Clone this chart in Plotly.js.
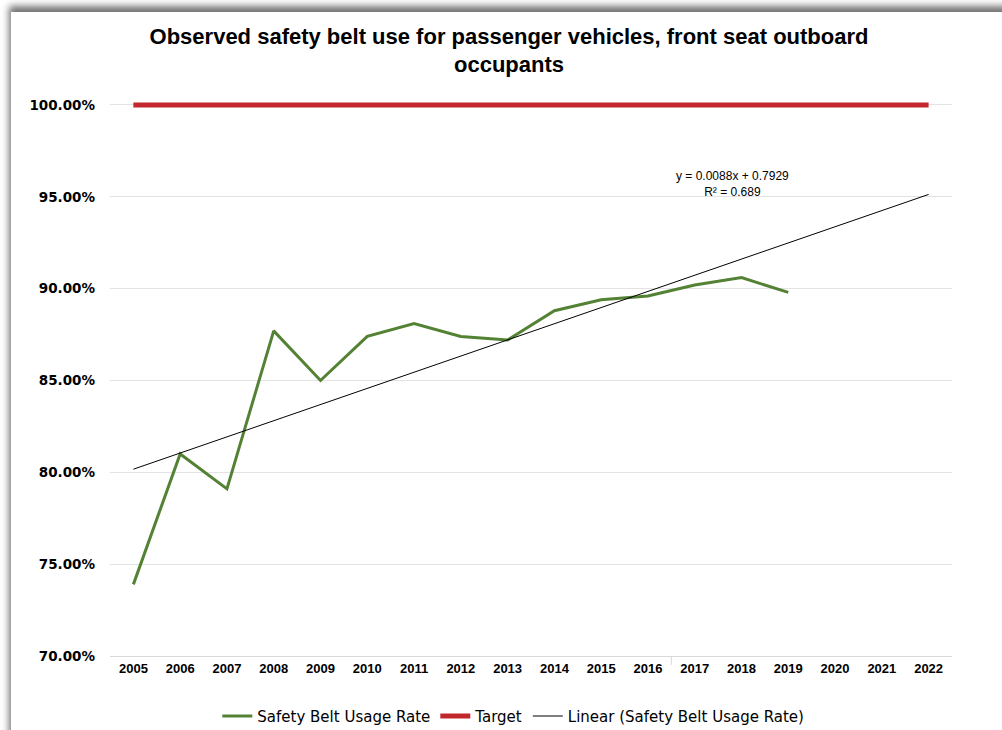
<!DOCTYPE html>
<html>
<head>
<meta charset="utf-8">
<script src="https://cdn.plot.ly/plotly-3.0.1.min.js"></script>
<style>
  html, body { margin: 0; padding: 0; background: #ffffff; overflow: hidden; }
  #frame { position: absolute; left: 11px; top: 12px; width: 1000px; height: 730px; background: #ffffff;
           box-shadow: -2px -6px 7px rgba(0,0,0,0.55); }
  #chart { position: absolute; left: 0; top: 0; width: 1002px; height: 730px; }
</style>
</head>
<body>
<div id="frame"></div>
<div id="chart"></div>
<script>
// ---- data ----
const years = ["2005","2006","2007","2008","2009","2010","2011","2012","2013","2014","2015","2016","2017","2018","2019","2020","2021","2022"];
const usageRate = [0.739, 0.810, 0.791, 0.877, 0.850, 0.874, 0.881, 0.874, 0.872, 0.888, 0.894, 0.896, 0.902, 0.906, 0.898];
const target = [1,1,1,1,1,1,1,1,1,1,1,1,1,1,1,1,1,1];
const trendSlope = 0.0088;
const trendIntercept = 0.7929;
const trendR2 = 0.689;
const yTicks = [0.70, 0.75, 0.80, 0.85, 0.90, 0.95, 1.00];
const yTickLabels = ["70.00%","75.00%","80.00%","85.00%","90.00%","95.00%","100.00%"];

const trendValues = years.map((_, i) => trendSlope * (i + 1) + trendIntercept);

const sansBold = "Liberation Sans, Arial, sans-serif";

const traces = [
  { x: years.slice(0, usageRate.length), y: usageRate, type: "scatter", mode: "lines",
    name: "Safety Belt Usage Rate", line: { color: "#548235", width: 3 } },
  { x: years, y: target, type: "scatter", mode: "lines",
    name: "Target", line: { color: "#C1272D", width: 5 } },
  { x: years, y: trendValues, type: "scatter", mode: "lines",
    name: "Linear (Safety Belt Usage Rate)", line: { color: "#000000", width: 1 } }
];

const layout = {
  width: 1002, height: 730,
  margin: { l: 110, r: 50, t: 98, b: 74, autoexpand: false },
  paper_bgcolor: "rgba(0,0,0,0)",
  plot_bgcolor: "rgba(0,0,0,0)",
  title: { text: "Observed safety belt use for passenger vehicles, front seat outboard<br>occupants",
           font: { family: sansBold, size: 22, color: "#000000", weight: "bold" },
           x: 0.508, xanchor: "center", y: 0.940, yanchor: "middle" },
  showlegend: true,
  legend: { orientation: "h", x: 0.479, xanchor: "center", xref: "paper", y: -0.108, yanchor: "middle",
            font: { family: "DejaVu Sans, sans-serif", size: 15, color: "#000000" }, itemwidth: 30, traceorder: "normal" },
  xaxis: { type: "category", range: [-0.5, 17.5], showgrid: false, zeroline: false,
           showline: true, linecolor: "#d9d9d9", linewidth: 1, ticks: "",
           tickfont: { family: sansBold, size: 13, color: "#000000", weight: "bold" },
           fixedrange: true },
  yaxis: { range: [0.70, 1.0038], tickvals: yTicks, ticktext: yTickLabels,
           showgrid: true, gridcolor: "#e3e3e3", gridwidth: 1, zeroline: false, showline: false,
           ticks: "", ticklabelstandoff: 14,
           tickfont: { family: "DejaVu Sans, sans-serif", size: 13.5, color: "#000000", weight: "bold" },
           fixedrange: true },
  shapes: [
    { type: "line", xref: "x", yref: "paper", x0: 11.5, x1: 11.5, y0: 0, y1: -0.016,
      line: { color: "#d9d9d9", width: 1 } }
  ],
  annotations: [
    { xref: "paper", yref: "paper", x: 0.739, y: 0.846, xanchor: "center", yanchor: "middle",
      showarrow: false, align: "center",
      text: "y = " + trendSlope.toFixed(4) + "x + " + trendIntercept.toFixed(4) + "<br>R² = " + trendR2.toFixed(3),
      font: { family: "Liberation Sans, Arial, sans-serif", size: 12, color: "#000000" } }
  ]
};

Plotly.newPlot("chart", traces, layout, { displayModeBar: false, staticPlot: true });
</script>
</body>
</html>
